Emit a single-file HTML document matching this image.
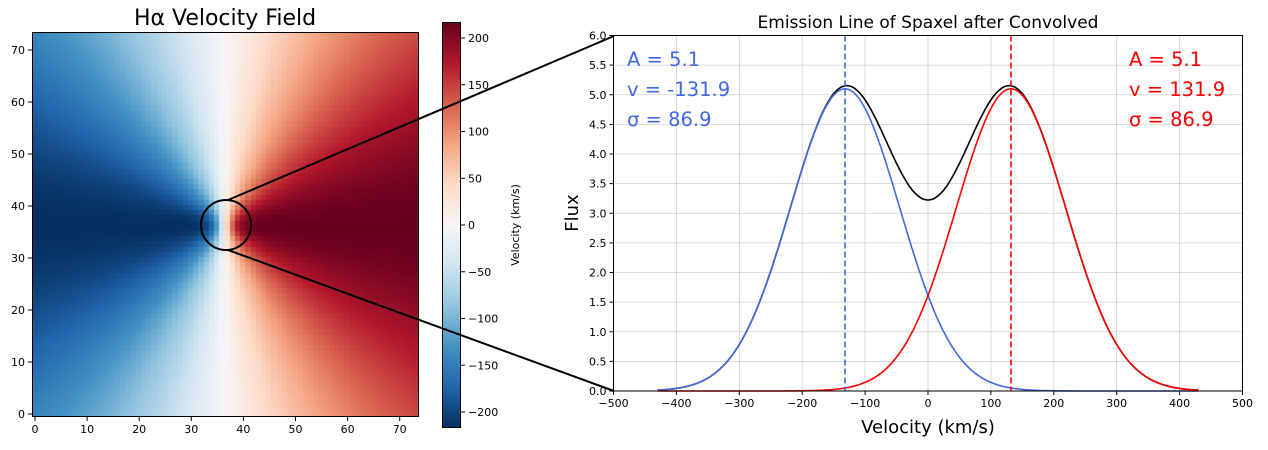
<!DOCTYPE html>
<html><head><meta charset="utf-8"><style>
body{margin:0;background:#fff;width:1268px;height:450px;overflow:hidden;font-family:"DejaVu Sans","Liberation Sans",sans-serif}
#c{position:absolute;left:0;top:0}
canvas{position:absolute}
</style></head><body>
<canvas id="fld" width="386" height="385" style="left:32px;top:32px"></canvas>
<canvas id="cb" width="19" height="406" style="left:442px;top:22px"></canvas>
<svg id="c" width="1268" height="450" font-family="DejaVu Sans, Liberation Sans, sans-serif" font-size="11">
<g id="g"></g>
</svg>
<script>
const stops=["#053061","#2166ac","#4393c3","#92c5de","#d1e5f0","#f7f7f7","#fddbc7","#f4a582","#d6604d","#b2182b","#67001f"].map(h=>[1,3,5].map(i=>parseInt(h.substr(i,2),16)));
function cm(t){t=Math.max(0,Math.min(1,t))*10;let i=Math.min(9,Math.floor(t)),f=t-i;return 'rgb('+stops[i].map((c,k)=>Math.round(c+(stops[i+1][k]-c)*f)).join(',')+')';}
const VM=217;
let cv=document.getElementById('fld').getContext('2d');
const sx=386/74,sy=385/74;
for(let j=0;j<74;j++)for(let i=0;i<74;i++){
 let x=i-36.5,y=j-36.5,r0=Math.hypot(x,y/0.88);
 let v=0; if(r0>0){v=VM*Math.tanh(r0/2.2)*x/r0;}
 cv.fillStyle=cm((v+VM)/(2*VM));
 cv.fillRect(Math.floor(i*sx),Math.floor((73-j)*sy),Math.ceil(sx)+1,Math.ceil(sy)+1);
}
let cb=document.getElementById('cb').getContext('2d');
for(let y=0;y<406;y++){cb.fillStyle=cm(1-y/405);cb.fillRect(0,y,19,1);}
let s='';
s+='<rect x="32.5" y="32.5" width="386" height="384" fill="none" stroke="#000" stroke-width="1"/>';
for(let k=0;k<=70;k+=10){let X=35+k*5.21,Y=414-k*5.2;
 s+=`<line x1="${X}" y1="417" x2="${X}" y2="421" stroke="#000"/><text x="${X}" y="433" text-anchor="middle">${k}</text>`;
 s+=`<line x1="28" y1="${Y}" x2="32" y2="${Y}" stroke="#000"/><text x="25" y="${Y+4}" text-anchor="end">${k}</text>`;}
s+='<text x="225" y="25" font-size="22" text-anchor="middle">Hα Velocity Field</text>';
s+='<rect x="442.5" y="22.5" width="18" height="405" fill="none" stroke="#000"/>';
for(let v=-200;v<=200;v+=50){let Y=225-v*0.935;s+=`<line x1="461" y1="${Y}" x2="465" y2="${Y}" stroke="#000"/><text x="468" y="${Y+4}">${v<0?'−'+(-v):v}</text>`;}
s+='<text transform="translate(519,225) rotate(-90)" text-anchor="middle" font-size="11">Velocity (km/s)</text>';
s+='<circle cx="226" cy="225" r="25" fill="none" stroke="#000" stroke-width="2"/>';
s+='<line x1="228" y1="200" x2="614" y2="36" stroke="#000" stroke-width="2"/><line x1="228" y1="250" x2="614" y2="391" stroke="#000" stroke-width="2"/>';
const X0=613.5,X1=1242.5,Y0=391,Y1=35.5;
const px=v=>X0+(v+500)/1000*(X1-X0), py=f=>Y0-f/6*(Y0-Y1);
for(let v=-500;v<=500;v+=100){let X=px(v);s+=`<line x1="${X}" y1="${Y1}" x2="${X}" y2="${Y0}" stroke="#b0b0b0" stroke-opacity=".6" stroke-width=".8"/><line x1="${X}" y1="${Y0}" x2="${X}" y2="${Y0+4}" stroke="#000"/><text x="${X}" y="${Y0+16}" text-anchor="middle">${v<0?'−'+(-v):v}</text>`;}
for(let f=0;f<=6.001;f+=0.5){let Y=py(f);s+=`<line x1="${X0}" y1="${Y}" x2="${X1}" y2="${Y}" stroke="#b0b0b0" stroke-opacity=".6" stroke-width=".8"/><line x1="${X0-4}" y1="${Y}" x2="${X0}" y2="${Y}" stroke="#000"/><text x="${X0-7}" y="${Y+4}" text-anchor="end">${f.toFixed(1)}</text>`;}
const A=5.1,m=131.9,sg=86.9,g=(v,mu)=>A*Math.exp(-(v-mu)*(v-mu)/(2*sg*sg));
let pb='',pr='',pk='';
for(let v=-430;v<=430;v+=2){let c=v==-430?'M':'L';pb+=c+px(v).toFixed(1)+','+py(g(v,-m)).toFixed(1);pr+=c+px(v).toFixed(1)+','+py(g(v,m)).toFixed(1);pk+=c+px(v).toFixed(1)+','+py(g(v,-m)+g(v,m)).toFixed(1);}
s+=`<path d="${pk}" fill="none" stroke="#000" stroke-width="1.6"/><path d="${pb}" fill="none" stroke="#4169e1" stroke-width="1.6"/><path d="${pr}" fill="none" stroke="#f00" stroke-width="1.6"/>`;
s+=`<line x1="${px(-m)}" y1="${Y1}" x2="${px(-m)}" y2="${Y0}" stroke="#4169e1" stroke-width="1.6" stroke-dasharray="6,3"/><line x1="${px(m)}" y1="${Y1}" x2="${px(m)}" y2="${Y0}" stroke="#f00" stroke-width="1.6" stroke-dasharray="6,3"/>`;
s+=`<rect x="${X0}" y="${Y1}" width="${X1-X0}" height="${Y0-Y1}" fill="none" stroke="#000"/>`;
s+='<g font-size="19.5" fill="#4169e1"><text x="627" y="66">A = 5.1</text><text x="627" y="96">v = -131.9</text><text x="627" y="126">σ = 86.9</text></g>';
s+='<g font-size="19.5" fill="#f00"><text x="1129" y="66">A = 5.1</text><text x="1129" y="96">v = 131.9</text><text x="1129" y="126">σ = 86.9</text></g>';
s+='<text x="928" y="28" font-size="17" text-anchor="middle">Emission Line of Spaxel after Convolved</text>';
s+='<text x="928" y="433" font-size="18" text-anchor="middle">Velocity (km/s)</text>';
s+='<text transform="translate(578,213) rotate(-90)" font-size="18" text-anchor="middle">Flux</text>';
document.getElementById('g').innerHTML=s;
</script>
</body></html>
